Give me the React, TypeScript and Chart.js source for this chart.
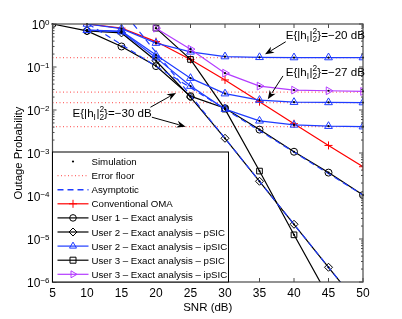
import React, { useEffect, useRef } from 'react';
import { Chart, registerables } from 'chart.js';
Chart.register(...registerables);

// ---------- data ----------
const SNR_ALL = [5, 10, 15, 20, 25, 30, 35, 40, 45, 50];
const SNR_10 = [10, 15, 20, 25, 30, 35, 40, 45, 50];
const SNR_20 = [20, 25, 30, 35, 40, 45, 50];

const omaValues = [1.0, 0.8, 0.39, 0.15, 0.05, 0.0156, 0.0048, 0.0015, 0.00048];
const user1Values = [1.0, 0.69, 0.3, 0.105, 0.021, 0.011, 0.0035, 0.00107, 0.00035, 0.000105];
const user2pSIC = [0.69, 0.62, 0.14, 0.02, 0.0022, 0.00022, 0.000022, 0.0000022, 0.00000022];
const user2ipSIC20 = [1.0, 0.78, 0.36, 0.225, 0.175, 0.168, 0.166, 0.166, 0.166];
const user2ipSIC27 = [0.72, 0.68, 0.19, 0.055, 0.024, 0.017, 0.0152, 0.015, 0.0149];
const user2ipSIC30 = [0.72, 0.66, 0.165, 0.036, 0.0105, 0.0056, 0.0045, 0.0042, 0.0041];
const user3pSIC = [0.8, 0.15, 0.0105, 0.00038, 0.0000125, 0.00000045];
const user3ipSIC = [0.8, 0.26, 0.072, 0.036, 0.029, 0.028, 0.027];

const errorFloors = [0.166, 0.026, 0.0148, 0.0041];
const asymU1X = [10.2, 50];
const asymU1Y = [1, 0.000105];
const asymU2X = [16.7, 50];
const asymU2Y = [1, 0.00000022];

const xTicks = [5, 10, 15, 20, 25, 30, 35, 40, 45, 50];
const yExponents = [0, -1, -2, -3, -4, -5, -6];

const legendLabels = [
  'Simulation',
  'Error floor',
  'Asymptotic',
  'Conventional OMA',
  'User 1 \u2013 Exact analysis',
  'User 2 \u2013 Exact analysis \u2013 pSIC',
  'User 2 \u2013 Exact analysis \u2013 ipSIC',
  'User 3 \u2013 Exact analysis \u2013 pSIC',
  'User 3 \u2013 Exact analysis \u2013 ipSIC',
];

// annotations: label dB, text left x, text center y, arrows [tailX, tailY, headX, headY]
const annotDb = ['\u221220 dB', '\u221227 dB', '\u221230 dB'];
const annotX = [38.8, 38.8, 7.9];
const annotY = [0.555, 0.078, 0.0085];
const annotArrows = [
  [[38.8, 0.387, 35.8, 0.197]],
  [[38.4, 0.062, 36.2, 0.0177]],
  [[19.2, 0.0116, 22.9, 0.025], [19.4, 0.0068, 24.3, 0.0041]],
];

// ---------- styles ----------
const BLACK = '#000000';
const BLUE = '#1f3cff';
const RED = '#ff0000';
const PURPLE = '#b43cff';
const FLOOR = '#ff6a6a';
const FONT = '"Liberation Sans", Arial, Helvetica, sans-serif';
const AXIS = '#4a4a4a';

const pts = (xs: number[], ys: number[]) => xs.slice(0, ys.length).map((x, i) => ({ x, y: ys[i] }));

function drawMarker(ctx: CanvasRenderingContext2D, style: string, x: number, y: number, r: number, color: string) {
  ctx.save();
  ctx.strokeStyle = color;
  ctx.lineWidth = 1;
  ctx.beginPath();
  switch (style) {
    case 'circle':
      ctx.arc(x, y, r, 0, Math.PI * 2);
      break;
    case 'diamond':
      ctx.moveTo(x, y - r); ctx.lineTo(x + r, y); ctx.lineTo(x, y + r); ctx.lineTo(x - r, y); ctx.closePath();
      break;
    case 'triangle':
      ctx.moveTo(x, y - r); ctx.lineTo(x + r * 0.87, y + r * 0.5); ctx.lineTo(x - r * 0.87, y + r * 0.5); ctx.closePath();
      break;
    case 'rtriangle':
      ctx.moveTo(x + r, y); ctx.lineTo(x - r * 0.5, y - r * 0.87); ctx.lineTo(x - r * 0.5, y + r * 0.87); ctx.closePath();
      break;
    case 'square':
      ctx.rect(x - r * 0.75, y - r * 0.75, r * 1.5, r * 1.5);
      break;
    case 'plus':
      ctx.moveTo(x - r, y); ctx.lineTo(x + r, y); ctx.moveTo(x, y - r); ctx.lineTo(x, y + r);
      break;
  }
  ctx.stroke();
  ctx.restore();
}

function drawAnnotText(ctx: CanvasRenderingContext2D, x: number, cy: number, db: string) {
  const size = 11.6;
  const big = `${size}px ${FONT}`;
  const small = `${size * 0.72}px ${FONT}`;
  const base = cy + size * 0.35;
  ctx.save();
  ctx.fillStyle = '#000';
  ctx.textAlign = 'left';
  ctx.textBaseline = 'alphabetic';
  let cx = x;
  ctx.font = big;
  ctx.fillText('E{|h', cx, base); cx += ctx.measureText('E{|h').width;
  ctx.font = small;
  ctx.fillText('I', cx, base + 3); cx += ctx.measureText('I').width + 0.5;
  ctx.font = big;
  ctx.fillText('|', cx, base); cx += ctx.measureText('|').width;
  ctx.font = small;
  ctx.fillText('2', cx, base - 5);
  ctx.fillText('2', cx, base + 3);
  cx += ctx.measureText('2').width;
  ctx.font = big;
  ctx.fillText('}=' + db, cx, base);
  ctx.restore();
}

function drawArrow(ctx: CanvasRenderingContext2D, x1: number, y1: number, x2: number, y2: number) {
  const ang = Math.atan2(y2 - y1, x2 - x1);
  const hl = 9, hw = 3.5;
  ctx.save();
  ctx.strokeStyle = '#000';
  ctx.fillStyle = '#000';
  ctx.lineWidth = 1;
  ctx.beginPath();
  ctx.moveTo(x1, y1);
  ctx.lineTo(x2 - Math.cos(ang) * hl * 0.8, y2 - Math.sin(ang) * hl * 0.8);
  ctx.stroke();
  ctx.beginPath();
  ctx.moveTo(x2, y2);
  ctx.lineTo(x2 - Math.cos(ang) * hl - Math.sin(ang) * hw, y2 - Math.sin(ang) * hl + Math.cos(ang) * hw);
  ctx.lineTo(x2 - Math.cos(ang) * hl * 0.7, y2 - Math.sin(ang) * hl * 0.7);
  ctx.lineTo(x2 - Math.cos(ang) * hl + Math.sin(ang) * hw, y2 - Math.sin(ang) * hl - Math.cos(ang) * hw);
  ctx.closePath();
  ctx.fill();
  ctx.restore();
}

const matlabPlugin = {
  id: 'matlabLook',
  afterDatasetsDraw(chart: any) {
    const ctx: CanvasRenderingContext2D = chart.ctx;
    const xs = chart.scales.x;
    const ys = chart.scales.y;
    const area = chart.chartArea;

    // simulation dots
    chart.data.datasets.forEach((ds: any, i: number) => {
      if (!ds.sim) return;
      const meta = chart.getDatasetMeta(i);
      meta.data.forEach((el: any) => {
        if (el.x < area.left - 1 || el.x > area.right + 1 || el.y < area.top - 1 || el.y > area.bottom + 1) return;
        ctx.save();
        ctx.fillStyle = '#000';
        ctx.beginPath();
        ctx.arc(el.x, el.y, 1.1, 0, Math.PI * 2);
        ctx.fill();
        ctx.restore();
      });
    });

    // axes box
    ctx.save();
    ctx.strokeStyle = AXIS;
    ctx.lineWidth = 1.2;
    ctx.strokeRect(area.left, area.top, area.right - area.left, area.bottom - area.top);
    ctx.lineWidth = 1;
    ctx.beginPath();
    xTicks.forEach((t) => {
      const px = xs.getPixelForValue(t);
      ctx.moveTo(px, area.bottom); ctx.lineTo(px, area.bottom - 4);
      ctx.moveTo(px, area.top); ctx.lineTo(px, area.top + 4);
    });
    yExponents.forEach((e) => {
      const py = ys.getPixelForValue(Math.pow(10, e));
      ctx.moveTo(area.left, py); ctx.lineTo(area.left + 4, py);
      ctx.moveTo(area.right, py); ctx.lineTo(area.right - 4, py);
      if (e < 0) {
        for (let m = 2; m <= 9; m++) {
          const pm = ys.getPixelForValue(m * Math.pow(10, e));
          ctx.moveTo(area.left, pm); ctx.lineTo(area.left + 2, pm);
          ctx.moveTo(area.right, pm); ctx.lineTo(area.right - 2, pm);
        }
      }
    });
    ctx.stroke();
    ctx.restore();

    // tick labels
    ctx.save();
    ctx.fillStyle = '#000';
    ctx.textBaseline = 'alphabetic';
    ctx.font = `12px ${FONT}`;
    ctx.textAlign = 'center';
    xTicks.forEach((t) => {
      ctx.fillText(String(t), xs.getPixelForValue(t), area.bottom + 15);
    });
    yExponents.forEach((e) => {
      const py = ys.getPixelForValue(Math.pow(10, e));
      const expText = e === 0 ? '0' : '\u2212' + Math.abs(e);
      ctx.font = `8px ${FONT}`;
      ctx.textAlign = 'right';
      const rx = area.left - 3;
      ctx.fillText(expText, rx, py + 0.5);
      const ew = ctx.measureText(expText).width;
      ctx.font = `12px ${FONT}`;
      ctx.fillText('10', rx - ew, py + 5);
    });
    ctx.font = `11.5px ${FONT}`;
    ctx.textAlign = 'center';
    ctx.fillText('SNR (dB)', (area.left + area.right) / 2, area.bottom + 29);
    ctx.save();
    ctx.translate(22, (area.top + area.bottom) / 2);
    ctx.rotate(-Math.PI / 2);
    ctx.font = `11.3px ${FONT}`;
    ctx.fillText('Outage Probability', 0, 0);
    ctx.restore();
    ctx.restore();

    // annotations
    annotDb.forEach((db, i) => {
      drawAnnotText(ctx, xs.getPixelForValue(annotX[i]), ys.getPixelForValue(annotY[i]), db);
      annotArrows[i].forEach((a) => {
        drawArrow(ctx, xs.getPixelForValue(a[0]), ys.getPixelForValue(a[1]), xs.getPixelForValue(a[2]), ys.getPixelForValue(a[3]));
      });
    });

    // legend
    const lx = area.left, ly = 152, lw = 176, lh = area.bottom - 152;
    ctx.save();
    ctx.fillStyle = '#fff';
    ctx.fillRect(lx, ly, lw, lh);
    ctx.strokeStyle = '#000';
    ctx.lineWidth = 1;
    ctx.strokeRect(lx, ly, lw, lh);
    const styles = [
      { line: null, color: BLACK, marker: 'dot' },
      { line: 'dotted', color: FLOOR, marker: '' },
      { line: 'dashed', color: BLUE, marker: '' },
      { line: 'solid', color: RED, marker: 'plus' },
      { line: 'solid', color: BLACK, marker: 'circle' },
      { line: 'solid', color: BLACK, marker: 'diamond' },
      { line: 'solid', color: BLUE, marker: 'triangle' },
      { line: 'solid', color: BLACK, marker: 'square' },
      { line: 'solid', color: PURPLE, marker: 'rtriangle' },
    ];
    legendLabels.forEach((label, i) => {
      const cy = ly + 9.5 + i * 14.1;
      const s = styles[i];
      const x0 = lx + 5, x1 = lx + 36, xm = (x0 + x1) / 2;
      if (s.line) {
        ctx.save();
        ctx.strokeStyle = s.color;
        ctx.lineWidth = s.line === 'dashed' ? 1.4 : 1.2;
        if (s.line === 'dotted') ctx.setLineDash([1, 2.5]);
        if (s.line === 'dashed') ctx.setLineDash([6, 4]);
        ctx.beginPath(); ctx.moveTo(x0, cy); ctx.lineTo(x1, cy); ctx.stroke();
        ctx.restore();
      }
      if (s.marker === 'dot') {
        ctx.beginPath(); ctx.fillStyle = '#000'; ctx.arc(xm, cy, 1.1, 0, Math.PI * 2); ctx.fill();
      } else if (s.marker) {
        drawMarker(ctx, s.marker, xm, cy, s.marker === 'circle' ? 3.3 : 4, s.color);
      }
      ctx.fillStyle = '#000';
      ctx.font = `9.7px ${FONT}`;
      ctx.textAlign = 'left';
      ctx.fillText(label, lx + 39, cy + 3.5);
    });
    ctx.restore();
  },
};

export default function App() {
  const ref = useRef<HTMLCanvasElement>(null);
  useEffect(() => {
    document.body.style.margin = '0';
    const line = (data: any[], color: string, extra: any = {}) => ({
      data,
      borderColor: color,
      backgroundColor: color,
      borderWidth: 1.2,
      pointRadius: 0,
      pointBorderColor: color,
      pointBackgroundColor: 'rgba(255,255,255,0)',
      pointBorderWidth: 1,
      tension: 0,
      fill: false,
      ...extra,
    });
    const datasets: any[] = [
      line(pts(asymU2X, asymU2Y), BLUE, { borderDash: [6, 4], order: 0 }),
      line(pts(asymU1X, asymU1Y), BLUE, { borderDash: [6, 4], order: 1 }),
      line(pts(SNR_20, user3ipSIC), PURPLE, { pointStyle: 'triangle', pointRotation: 90, pointRadius: 4.5, sim: true, order: 2 }),
      line(pts(SNR_10, user2ipSIC20), BLUE, { pointStyle: 'triangle', pointRadius: 4.5, sim: true, order: 3 }),
      line(pts(SNR_10, user2ipSIC27), BLUE, { pointStyle: 'triangle', pointRadius: 4.5, sim: true, order: 4 }),
      line(pts(SNR_10, user2ipSIC30), BLUE, { pointStyle: 'triangle', pointRadius: 4.5, sim: true, order: 5 }),
      line(pts(SNR_20, user3pSIC), BLACK, { pointStyle: 'rect', pointRadius: 4, sim: true, order: 6 }),
      line(pts(SNR_10, user2pSIC), BLACK, { pointStyle: 'rectRot', pointRadius: 4, sim: true, order: 7 }),
      line(pts(SNR_ALL, user1Values), BLACK, { pointStyle: 'circle', pointRadius: 3.5, sim: true, order: 8 }),
      line(pts(SNR_10, omaValues), RED, { pointStyle: 'cross', pointRadius: 4, order: 9 }),
      ...errorFloors.map((f, i) =>
        line([{ x: 5, y: f }, { x: 50, y: f }], FLOOR, { borderDash: [1, 2.5], borderWidth: 1.2, order: 10 + i })
      ),
    ];
    const chart = new Chart(ref.current as HTMLCanvasElement, {
      type: 'line',
      data: { datasets },
      options: {
        responsive: false,
        animation: false,
        devicePixelRatio: 1,
        layout: { padding: { left: 52.5, right: 39, top: 24, bottom: 37 } },
        scales: {
          x: { type: 'linear', min: 5, max: 50, display: false },
          y: { type: 'logarithmic', min: 1e-6, max: 1, display: false },
        },
        plugins: { legend: { display: false }, tooltip: { enabled: false } },
        elements: { line: { borderCapStyle: 'butt' } },
      } as any,
      plugins: [matlabPlugin],
    });
    return () => chart.destroy();
  }, []);
  return <canvas ref={ref} width={402} height={319} style={{ display: 'block' }} />;
}
